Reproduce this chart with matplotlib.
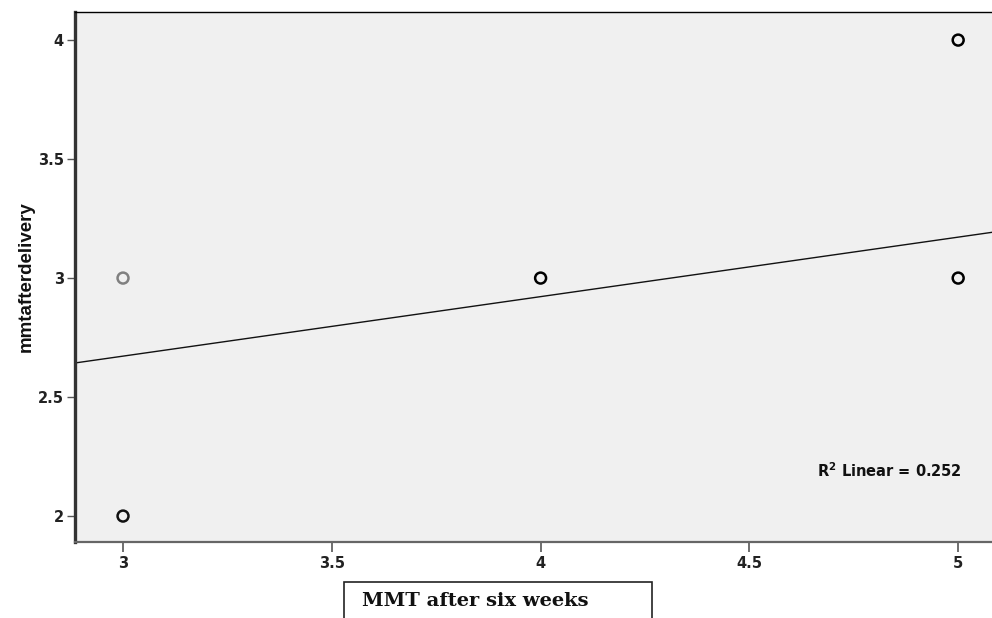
import matplotlib
matplotlib.use("Agg")
import matplotlib.pyplot as plt
from matplotlib.patches import Rectangle

# Data
x_vals = [3, 3, 4, 5, 5]
y_vals = [3, 2, 3, 4, 3]
point_edge = ["#808080", "#111111", "#000000", "#000000", "#000000"]
fit_slope = 0.250
fit_intercept = 1.922
r2_text = "R$^\\mathbf{2}$ Linear = 0.252"
x_ticks = [3, 3.5, 4, 4.5, 5]
x_ticklabels = ["3", "3.5", "4", "4.5", "5"]
y_ticks = [2, 2.5, 3, 3.5, 4]
y_ticklabels = ["2", "2.5", "3", "3.5", "4"]
y_label = "mmtafterdelivery"
x_label = "MMT after six weeks"

plt.rcParams["mathtext.fontset"] = "dejavusans"

fig = plt.figure(figsize=(9.92, 6.18), dpi=100)
ax = fig.add_axes([75/992, 76/618, 917/992, 530/618])
ax.set_facecolor("#f0f0f0")

xlim = (2.885, 5.081)
ylim = (1.891, 4.118)
ax.set_xlim(*xlim)
ax.set_ylim(*ylim)

# regression line
ax.plot(list(xlim), [fit_intercept + fit_slope * xlim[0], fit_intercept + fit_slope * xlim[1]],
        color="#111111", lw=1.0, zorder=2)

ax.scatter(x_vals, y_vals, s=62, facecolors="none", edgecolors=point_edge,
           linewidths=1.8, zorder=3)

ax.set_xticks(x_ticks)
ax.set_xticklabels(x_ticklabels)
ax.set_yticks(y_ticks)
ax.set_yticklabels(y_ticklabels)

for lab in ax.get_xticklabels() + ax.get_yticklabels():
    lab.set_fontfamily("DejaVu Sans")
    lab.set_fontweight("bold")
    lab.set_fontsize(10.5)
    lab.set_color("#222222")

ax.tick_params(axis="x", direction="out", length=7, width=1.2, color="#555555", pad=3)
ax.tick_params(axis="y", direction="out", length=6, width=1.0, color="#555555", pad=2)

ax.spines["right"].set_visible(False)
ax.spines["top"].set_color("#000000")
ax.spines["top"].set_linewidth(1.0)
ax.spines["left"].set_color("#333333")
ax.spines["left"].set_linewidth(2.4)
ax.spines["bottom"].set_color("#666666")
ax.spines["bottom"].set_linewidth(1.6)

ax.set_ylabel(y_label, fontfamily="Liberation Sans", fontweight="bold",
              fontsize=13.5, color="#111111")
ax.yaxis.set_label_coords(-40/917, 0.5)

ax.text(817/992, 1 - 471/618, r2_text, transform=fig.transFigure,
        fontfamily="DejaVu Sans", fontweight="bold", fontsize=10.5,
        color="#111111", ha="left", va="center")

# boxed x label
rect = Rectangle((344/992, -10/618), 308/992, (618 - 582 + 10)/618,
                 transform=fig.transFigure, facecolor="white",
                 edgecolor="#222222", linewidth=1.2, clip_on=False)
fig.patches.append(rect)
fig.text(362/992, (618 - 606)/618, x_label, fontfamily="DejaVu Serif",
         fontweight="bold", fontsize=14, color="#111111",
         ha="left", va="baseline")

fig.savefig("out.png", dpi=100)
